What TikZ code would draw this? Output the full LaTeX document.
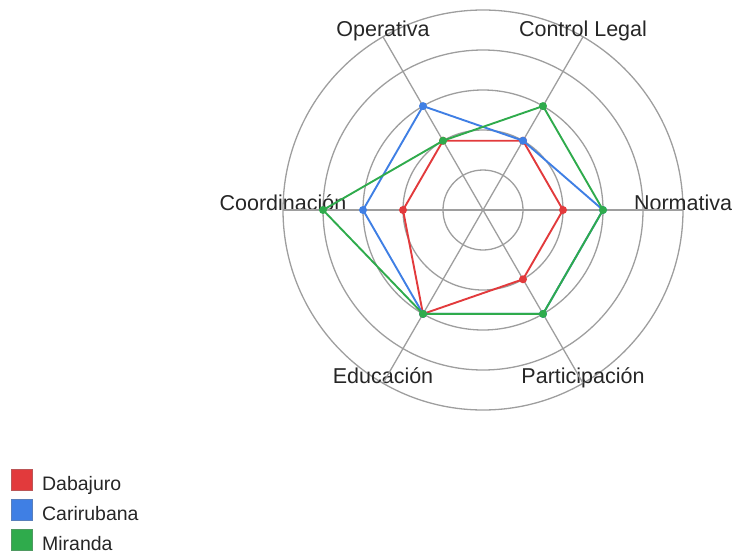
\documentclass[tikz,border=0pt]{standalone}
\usepackage{fontspec}
\setmainfont{Liberation Sans}
\usetikzlibrary{positioning}

\definecolor{dabred}{HTML}{E23A3C}
\definecolor{carblue}{HTML}{3F7FE4}
\definecolor{mirgreen}{HTML}{2FAB4C}
\definecolor{gridgray}{HTML}{9E9E9E}

\tikzset{
  ring/.style={draw=gridgray,line width=1.3pt},
  axislabel/.style={anchor=base,inner sep=0pt,text=black!85,font=\fontsize{21.5}{24}\selectfont},
  series/.style={line width=1.9pt,line join=round},
  legendbox/.style={minimum size=21pt,inner sep=0pt,line width=0.8pt},
  legendtext/.style={anchor=base west,inner sep=0pt,text=black!85,font=\fontsize{19.5}{22}\selectfont}
}

\begin{document}
\begin{tikzpicture}[x=1pt,y=1pt]
\useasboundingbox (0,0) rectangle (733,-554);
\begin{scope}[shift={(483,-210)}]
% rings
\coordinate (o) at (0,0);
\draw[ring] (o) circle (40);
\draw[ring] (o) circle (80);
\draw[ring] (o) circle (120);
\draw[ring] (o) circle (160);
\draw[ring] (o) circle (200);
% axes and their labels
\node[axislabel] (norm) at (0:200) {Normativa};
\node[axislabel] (legal) at (60:200) {Control Legal};
\node[axislabel] (oper) at (120:200) {Operativa};
\node[axislabel] (coord) at (180:200) {Coordinación};
\node[axislabel] (educ) at (240:200) {Educación};
\node[axislabel] (part) at (300:200) {Participación};
\draw[ring] (o) -- (norm.base);
\draw[ring] (o) -- (legal.base);
\draw[ring] (o) -- (oper.base);
\draw[ring] (o) -- (coord.base);
\draw[ring] (o) -- (educ.base);
\draw[ring] (o) -- (part.base);
% Dabajuro
\coordinate (d1) at (0:80);
\coordinate (d2) at (60:80);
\coordinate (d3) at (120:80);
\coordinate (d4) at (180:80);
\coordinate (d5) at (240:120);
\coordinate (d6) at (300:80);
\draw[series,dabred] (d1) -- (d2) -- (d3) -- (d4) -- (d5) -- (d6) -- cycle;
\fill[dabred] (d1) circle (4) (d2) circle (4) (d3) circle (4)
  (d4) circle (4) (d5) circle (4) (d6) circle (4);
% Carirubana
\coordinate (c1) at (0:120);
\coordinate (c2) at (60:80);
\coordinate (c3) at (120:120);
\coordinate (c4) at (180:120);
\coordinate (c5) at (240:120);
\coordinate (c6) at (300:120);
\draw[series,carblue] (c1) -- (c2) -- (c3) -- (c4) -- (c5) -- (c6) -- cycle;
\fill[carblue] (c1) circle (4) (c2) circle (4) (c3) circle (4)
  (c4) circle (4) (c5) circle (4) (c6) circle (4);
% Miranda
\coordinate (m1) at (0:120);
\coordinate (m2) at (60:120);
\coordinate (m3) at (120:80);
\coordinate (m4) at (180:160);
\coordinate (m5) at (240:120);
\coordinate (m6) at (300:120);
\draw[series,mirgreen] (m1) -- (m2) -- (m3) -- (m4) -- (m5) -- (m6) -- cycle;
\fill[mirgreen] (m1) circle (4) (m2) circle (4) (m3) circle (4)
  (m4) circle (4) (m5) circle (4) (m6) circle (4);
\end{scope}
% legend
\node[legendbox,fill=dabred,draw=dabred!60!gray] (box1) at (22,-480) {};
\node[legendbox,fill=carblue,draw=carblue!60!gray] (box2) at (22,-510) {};
\node[legendbox,fill=mirgreen,draw=mirgreen!60!gray] (box3) at (22,-540) {};
\node[legendtext] (lab1) at ([xshift=9pt,yshift=0pt]box1.south east) {Dabajuro};
\node[legendtext] (lab2) at ([xshift=9pt,yshift=0pt]box2.south east) {Carirubana};
\node[legendtext] (lab3) at ([xshift=9pt,yshift=0pt]box3.south east) {Miranda};
\end{tikzpicture}
\end{document}
